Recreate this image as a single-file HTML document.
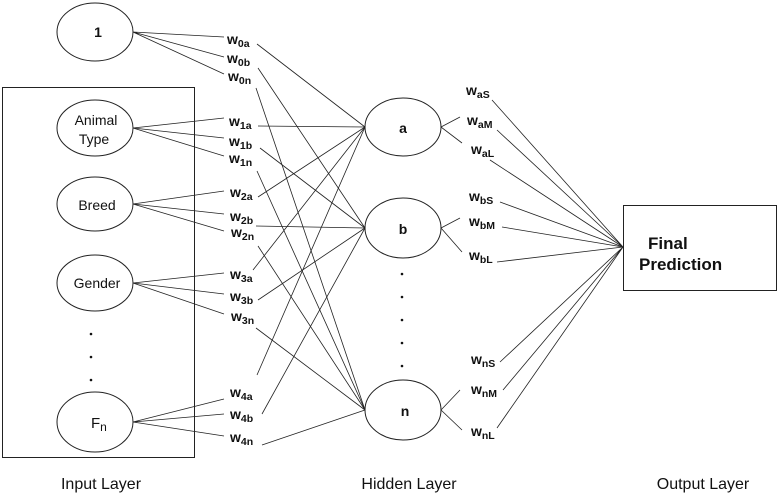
<!DOCTYPE html>
<html><head><meta charset="utf-8"><style>
html,body{margin:0;padding:0;background:#fff;}
svg{display:block;font-family:"Liberation Sans",Arial,sans-serif;}
</style></head><body>
<svg width="778" height="493" viewBox="0 0 778 493" xmlns="http://www.w3.org/2000/svg">
<g fill="none" stroke="#222" stroke-width="1">
<rect x="2.5" y="87.5" width="192" height="370"/>
<ellipse cx="95" cy="32" rx="38" ry="29"/>
<ellipse cx="95" cy="128" rx="38" ry="28"/>
<ellipse cx="95" cy="204" rx="38" ry="27"/>
<ellipse cx="95" cy="283" rx="38" ry="28"/>
<ellipse cx="95" cy="422" rx="38" ry="30"/>
<ellipse cx="403" cy="127" rx="38" ry="29"/>
<ellipse cx="403" cy="228" rx="38" ry="30"/>
<ellipse cx="403" cy="410" rx="38" ry="30"/>
<rect x="623.5" y="205.5" width="153" height="85"/>
<g stroke-width="0.8">
<path d="M133 32L224 37M133 32L224 57M133 32L224 74"/>
<path d="M133 128L224 118M133 128L224 138M133 128L224 156"/>
<path d="M133 204L224 191M133 204L224 214M133 204L224 231"/>
<path d="M133 283L224 273M133 283L224 294M133 283L224 314"/>
<path d="M133 422L224 399M133 422L224 414M133 422L224 436"/>
<path d="M257 44L365 127M258 68L365 228M256 88L365 410"/>
<path d="M258 126L365 127M260 148L365 228M257 171L365 410"/>
<path d="M258 197L365 127M256 226L365 228M258 246L365 410"/>
<path d="M253 270L365 127M258 300L365 228M256 328L365 410"/>
<path d="M257 375L365 127M262 414L365 228M262 445L365 410"/>
<path d="M441 127L460 117M441 127L462 143"/>
<path d="M441 228L460 218M441 228L462 252"/>
<path d="M441 410L460 390M441 410L462 430"/>
<path d="M492 100L623 247M497 130L623 247M490 160L623 247"/>
<path d="M500 202L623 247M502 227L623 247M497 262L623 247"/>
<path d="M500 362L623 247M503 390L623 247M497 428L623 247"/>
</g>
</g>
<g fill="#111" font-size="14">
<text x="98" y="37" text-anchor="middle" font-weight="bold">1</text>
<text x="96" y="125" text-anchor="middle">Animal</text>
<text x="94" y="144" text-anchor="middle">Type</text>
<text x="97" y="210" text-anchor="middle">Breed</text>
<text x="97" y="288" text-anchor="middle">Gender</text>
<text x="91" y="428" font-size="15">F<tspan font-size="12" dy="3">n</tspan></text>
<text x="403" y="133" text-anchor="middle" font-weight="bold">a</text>
<text x="403" y="234" text-anchor="middle" font-weight="bold">b</text>
<text x="405" y="416" text-anchor="middle" font-weight="bold">n</text>
</g>
<g fill="#111" font-size="14" font-weight="bold">
<text x="227" y="44">w<tspan font-size="10.5" dy="3">0a</tspan></text>
<text x="227" y="63">w<tspan font-size="10.5" dy="3">0b</tspan></text>
<text x="228" y="81">w<tspan font-size="10.5" dy="3">0n</tspan></text>
<text x="229" y="126">w<tspan font-size="10.5" dy="3">1a</tspan></text>
<text x="229" y="146">w<tspan font-size="10.5" dy="3">1b</tspan></text>
<text x="229" y="163">w<tspan font-size="10.5" dy="3">1n</tspan></text>
<text x="230" y="197">w<tspan font-size="10.5" dy="3">2a</tspan></text>
<text x="230" y="221">w<tspan font-size="10.5" dy="3">2b</tspan></text>
<text x="231" y="237">w<tspan font-size="10.5" dy="3">2n</tspan></text>
<text x="230" y="279">w<tspan font-size="10.5" dy="3">3a</tspan></text>
<text x="230" y="301">w<tspan font-size="10.5" dy="3">3b</tspan></text>
<text x="231" y="321">w<tspan font-size="10.5" dy="3">3n</tspan></text>
<text x="230" y="397">w<tspan font-size="10.5" dy="3">4a</tspan></text>
<text x="230" y="419">w<tspan font-size="10.5" dy="3">4b</tspan></text>
<text x="230" y="442">w<tspan font-size="10.5" dy="3">4n</tspan></text>
<text x="466" y="95">w<tspan font-size="10.5" dy="3">aS</tspan></text>
<text x="467" y="125">w<tspan font-size="10.5" dy="3">aM</tspan></text>
<text x="471" y="154">w<tspan font-size="10.5" dy="3">aL</tspan></text>
<text x="469" y="201">w<tspan font-size="10.5" dy="3">bS</tspan></text>
<text x="469" y="226">w<tspan font-size="10.5" dy="3">bM</tspan></text>
<text x="469" y="260">w<tspan font-size="10.5" dy="3">bL</tspan></text>
<text x="471" y="364">w<tspan font-size="10.5" dy="3">nS</tspan></text>
<text x="471" y="394">w<tspan font-size="10.5" dy="3">nM</tspan></text>
<text x="471" y="436">w<tspan font-size="10.5" dy="3">nL</tspan></text>
</g>
<g fill="#111">
<circle cx="91" cy="334" r="1.3"/><circle cx="91" cy="357" r="1.3"/><circle cx="91" cy="380" r="1.3"/>
<circle cx="402" cy="274" r="1.3"/><circle cx="402" cy="297" r="1.3"/><circle cx="402" cy="320" r="1.3"/><circle cx="402" cy="343" r="1.3"/><circle cx="402" cy="366" r="1.3"/>
</g>
<g fill="#111" font-size="17" font-weight="bold">
<text x="648" y="249">Final</text>
<text x="639" y="270">Prediction</text>
</g>
<g fill="#111" font-size="16">
<text x="101" y="489" text-anchor="middle">Input Layer</text>
<text x="409" y="489" text-anchor="middle">Hidden Layer</text>
<text x="703" y="489" text-anchor="middle">Output Layer</text>
</g>
</svg>
</body></html>
